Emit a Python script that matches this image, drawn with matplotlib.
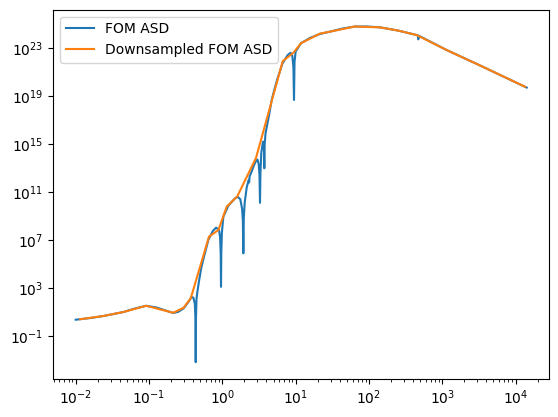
import numpy as np
import matplotlib
matplotlib.use("Agg")
import matplotlib.pyplot as plt
from matplotlib.ticker import NullLocator

# FOM ASD (log10 frequency, log10 ASD)
fom_logf = [-2.00, -1.80, -1.62, -1.35, -1.20, -1.04, -0.90, -0.78, -0.67, -0.60,
            -0.53, -0.47, -0.42, -0.395, -0.375, -0.367, -0.363, -0.359, -0.352, -0.340,
            -0.320, -0.290, -0.259, -0.191, -0.13, -0.085, -0.045, -0.030, -0.022, -0.018,
            -0.014, -0.006, 0.014, 0.082, 0.173, 0.210, 0.245, 0.270, 0.280, 0.287,
            0.293, 0.305, 0.333, 0.360, 0.366, 0.372, 0.40, 0.43, 0.46, 0.48,
            0.497, 0.507, 0.514, 0.520, 0.532, 0.555, 0.567, 0.573, 0.578, 0.590,
            0.628, 0.674, 0.709, 0.75, 0.82, 0.89, 0.93, 0.955, 0.970, 0.978,
            0.985, 1.000, 1.074, 1.20, 1.333, 1.469, 1.64, 1.81, 1.98, 2.15,
            2.40, 2.65, 2.668, 2.674, 2.680, 2.80, 3.06, 3.50, 4.153]
fom_logasd = [0.36, 0.50, 0.67, 1.00, 1.28, 1.52, 1.38, 1.14, 0.92, 1.02,
              1.30, 1.78, 2.25, 2.20, 1.70, 0.50, -3.18, 0.60, 2.10, 2.70,
              3.50, 4.60, 5.40, 7.00, 7.75, 8.03, 7.85, 7.20, 5.80, 3.10,
              5.90, 7.60, 8.94, 9.86, 10.47, 10.60, 10.40, 9.60, 8.60, 5.89,
              8.80, 10.10, 11.40, 12.00, 11.80, 12.30, 12.70, 13.20, 13.60, 13.70,
              13.30, 12.40, 10.10, 12.60, 14.30, 15.20, 14.90, 12.98, 15.00, 15.90,
              17.10, 18.67, 19.50, 20.40, 21.70, 22.40, 22.60, 22.35, 21.40, 18.67,
              21.80, 22.70, 23.40, 23.85, 24.17, 24.36, 24.62, 24.79, 24.79, 24.72,
              24.45, 24.08, 24.04, 23.72, 24.02, 23.65, 22.83, 21.59, 19.70]

# Downsampled FOM ASD
ds_logf = [-1.94, -1.62, -1.35, -1.04, -0.67, -0.53, -0.431, -0.182, -0.054, 0.06,
           0.205, 0.46, 0.824, 0.969, 1.074, 1.333, 1.469, 1.81, 2.15, 2.40,
           2.65, 3.06, 3.50, 4.13]
ds_logasd = [0.40, 0.67, 1.00, 1.52, 0.94, 1.35, 2.14, 7.28, 7.83, 9.78,
             10.65, 13.85, 21.9, 22.6, 23.4, 24.2, 24.36, 24.79, 24.72, 24.45,
             24.08, 22.83, 21.59, 19.77]

labels = ["FOM ASD", "Downsampled FOM ASD"]
xtick_exps = [-2, -1, 0, 1, 2, 3, 4]
ytick_exps = [-1, 3, 7, 11, 15, 19, 23]

fom_f = 10.0 ** np.array(fom_logf)
fom_asd = 10.0 ** np.array(fom_logasd)
ds_f = 10.0 ** np.array(ds_logf)
ds_asd = 10.0 ** np.array(ds_logasd)

fig = plt.figure(figsize=(5.58, 4.17), dpi=100)
ax = fig.add_axes([53.3 / 558, 38 / 417, (549 - 53.3) / 558, (379 - 9.7) / 417])
ax.loglog(fom_f, fom_asd, label=labels[0])
ax.loglog(ds_f, ds_asd, label=labels[1])
ax.set_xlim(10 ** -2.306, 10 ** 4.457)
ax.set_ylim(10 ** -4.58, 10 ** 26.19)
ax.set_xticks([10.0 ** e for e in xtick_exps])
ax.set_yticks([10.0 ** e for e in ytick_exps])
ax.yaxis.set_minor_locator(NullLocator())
ax.legend(loc="upper left")
fig.savefig("out.png", dpi=100)
